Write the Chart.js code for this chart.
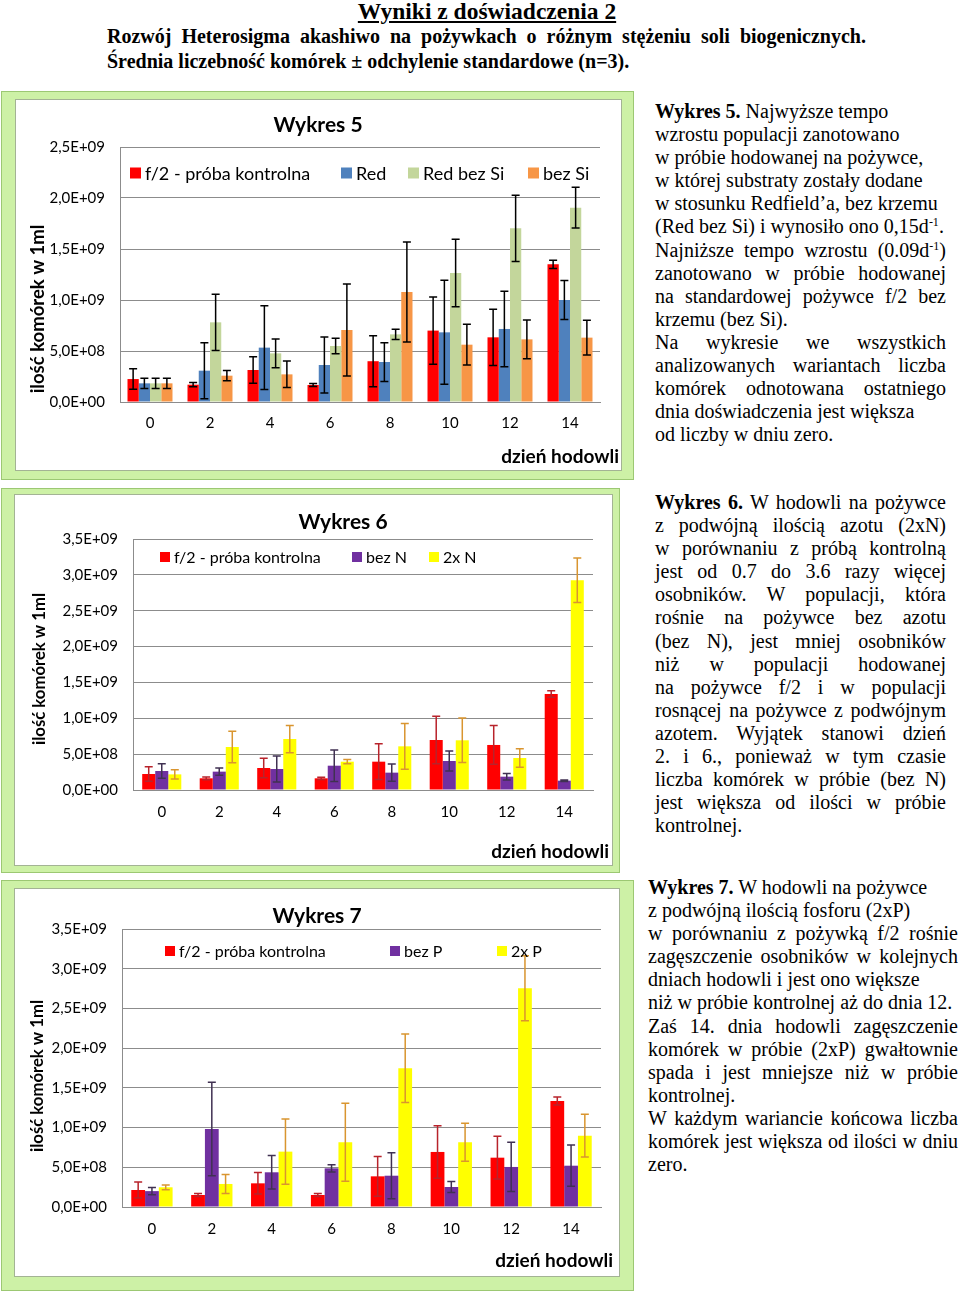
<!DOCTYPE html>
<html lang="pl">
<head>
<meta charset="utf-8">
<title>Wyniki z doświadczenia 2</title>
<script src="https://cdn.jsdelivr.net/npm/chart.js@4.4.1/dist/chart.umd.min.js"></script>
<style>
  body { margin: 0; background: #fff; }
  #strona { position: relative; width: 960px; height: 1295px; overflow: hidden; color: #000;
            font-family: "Liberation Serif", "Times New Roman", serif; }
  .ramka { position: absolute; box-sizing: border-box; background: #cdf1a6; border: 1px solid #9cc873; }
  .wnetrze { position: absolute; box-sizing: border-box; background: #fff; border: 1px solid #a3b394; }
  canvas { position: absolute; }
  #naglowek { position: absolute; left: 0; top: -1px; width: 974px; text-align: center;
              font-weight: bold; font-size: 23.5px; line-height: 24px; text-decoration: underline; }
  .podtytul { position: absolute; left: 107px; font-weight: bold; font-size: 20px; line-height: 24px; white-space: nowrap; }
  .j { text-align: justify; text-align-last: justify; }
  .opis { position: absolute; font-size: 20px; }
  .opis div { height: 23.1px; line-height: 23.1px; white-space: nowrap; }
  .opis div.j { white-space: normal; overflow: visible; }
  sup { font-size: 12px; line-height: 0; vertical-align: 7px; }
</style>
</head>
<body>
<div id="strona">
  <div id="naglowek">Wyniki z doświadczenia 2</div>
  <div class="podtytul j" style="top:24px; width:759px;">Rozwój Heterosigma akashiwo na pożywkach o różnym stężeniu soli biogenicznych.</div>
  <div class="podtytul" style="top:49px;">Średnia liczebność komórek ± odchylenie standardowe (n=3).</div>

  <!-- ramki wykresów -->
  <div class="ramka" style="left:1px; top:91px; width:633px; height:389px;"></div>
  <div class="wnetrze" style="left:15px; top:99px; width:607px; height:372px;"></div>
  <canvas id="wykres5" width="607" height="372" style="left:15px; top:99px;"></canvas>

  <div class="ramka" style="left:1px; top:488px; width:619px; height:385px;"></div>
  <div class="wnetrze" style="left:14px; top:494px; width:599px; height:372px;"></div>
  <canvas id="wykres6" width="599" height="372" style="left:14px; top:494px;"></canvas>

  <div class="ramka" style="left:1px; top:880px; width:633px; height:411px;"></div>
  <div class="wnetrze" style="left:14px; top:888px; width:606px; height:389px;"></div>
  <canvas id="wykres7" width="606" height="389" style="left:14px; top:888px;"></canvas>

  <!-- opisy -->
  <div class="opis" style="left:655px; top:100px; width:291px;">
    <div><b>Wykres 5.</b> Najwyższe tempo</div>
    <div>wzrostu populacji zanotowano</div>
    <div>w próbie hodowanej na pożywce,</div>
    <div>w której substraty zostały dodane</div>
    <div>w stosunku Redfield’a, bez krzemu</div>
    <div>(Red bez Si) i wynosiło ono 0,15d<sup>-1</sup>.</div>
    <div class="j">Najniższe tempo wzrostu (0.09d<sup>-1</sup>)</div>
    <div class="j">zanotowano w próbie hodowanej</div>
    <div class="j">na standardowej pożywce f/2 bez</div>
    <div>krzemu (bez Si).</div>
    <div class="j">Na wykresie we wszystkich</div>
    <div class="j">analizowanych wariantach liczba</div>
    <div class="j">komórek odnotowana ostatniego</div>
    <div>dnia doświadczenia jest większa</div>
    <div>od liczby w dniu zero.</div>
  </div>

  <div class="opis" style="left:655px; top:491px; width:291px;">
    <div class="j"><b>Wykres 6.</b> W hodowli na pożywce</div>
    <div class="j">z podwójną ilością azotu (2xN)</div>
    <div class="j">w porównaniu z próbą kontrolną</div>
    <div class="j">jest od 0.7 do 3.6 razy więcej</div>
    <div class="j">osobników. W populacji, która</div>
    <div class="j">rośnie na pożywce bez azotu</div>
    <div class="j">(bez N), jest mniej osobników</div>
    <div class="j">niż w populacji hodowanej</div>
    <div class="j">na pożywce f/2 i w populacji</div>
    <div class="j">rosnącej na pożywce z podwójnym</div>
    <div class="j">azotem. Wyjątek stanowi dzień</div>
    <div class="j">2. i 6., ponieważ w tym czasie</div>
    <div class="j">liczba komórek w próbie (bez N)</div>
    <div class="j">jest większa od ilości w próbie</div>
    <div>kontrolnej.</div>
  </div>

  <div class="opis" style="left:648px; top:876px; width:310px;">
    <div><b>Wykres 7.</b> W hodowli na pożywce</div>
    <div>z podwójną ilością fosforu (2xP)</div>
    <div class="j">w porównaniu z pożywką f/2 rośnie</div>
    <div class="j">zagęszczenie osobników w kolejnych</div>
    <div>dniach hodowli i jest ono większe</div>
    <div>niż w próbie kontrolnej aż do dnia 12.</div>
    <div class="j">Zaś 14. dnia hodowli zagęszczenie</div>
    <div class="j">komórek w próbie (2xP) gwałtownie</div>
    <div class="j">spada i jest mniejsze niż w próbie</div>
    <div>kontrolnej.</div>
    <div class="j">W każdym wariancie końcowa liczba</div>
    <div class="j">komórek jest większa od ilości w dniu</div>
    <div>zero.</div>
  </div>
</div>

<script>
// dni hodowli (oś X)
var dni = ['0', '2', '4', '6', '8', '10', '12', '14'];

// Wykres 5 - średnie i odchylenia standardowe
var w5_kontrola    = [2.25e8, 1.70e8, 3.14e8, 1.67e8, 4.00e8, 7.00e8, 6.34e8, 1.35e9];
var w5_kontrola_sd = [1.00e8, 0.20e8, 1.30e8, 0.15e8, 2.50e8, 3.30e8, 2.75e8, 0.40e8];
var w5_red         = [1.83e8, 3.07e8, 5.33e8, 3.63e8, 3.92e8, 6.83e8, 7.16e8, 1.00e9];
var w5_red_sd      = [0.50e8, 2.75e8, 4.10e8, 2.75e8, 1.90e8, 5.10e8, 3.70e8, 1.90e8];
var w5_redBezSi    = [1.83e8, 7.81e8, 4.77e8, 5.49e8, 6.63e8, 1.265e9, 1.703e9, 1.905e9];
var w5_redBezSi_sd = [0.50e8, 2.75e8, 1.40e8, 0.75e8, 0.50e8, 3.30e8, 3.25e8, 2.00e8];
var w5_bezSi       = [1.83e8, 2.58e8, 2.71e8, 7.06e8, 1.078e9, 5.62e8, 6.14e8, 6.31e8];
var w5_bezSi_sd    = [0.50e8, 0.50e8, 1.30e8, 4.50e8, 4.90e8, 2.00e8, 1.90e8, 1.70e8];

// Wykres 6
var w6_kontrola    = [2.23e8, 1.63e8, 3.07e8, 1.63e8, 3.95e8, 6.97e8, 6.28e8, 1.339e9];
var w6_kontrola_sd = [1.00e8, 0.20e8, 1.35e8, 0.15e8, 2.50e8, 3.30e8, 2.70e8, 0.45e8];
var w6_bezN        = [2.65e8, 2.56e8, 2.93e8, 3.39e8, 2.42e8, 4.04e8, 1.86e8, 1.30e8];
var w6_bezN_sd     = [1.00e8, 0.50e8, 1.80e8, 2.20e8, 1.20e8, 1.40e8, 0.45e8, 0.10e8];
var w6_2xN         = [2.18e8, 6.00e8, 7.11e8, 3.95e8, 6.09e8, 6.93e8, 4.46e8, 2.924e9];
var w6_2xN_sd      = [0.65e8, 2.20e8, 1.90e8, 0.30e8, 3.20e8, 3.10e8, 1.30e8, 3.10e8];

// Wykres 7
var w7_kontrola    = [2.14e8, 1.51e8, 2.98e8, 1.51e8, 3.86e8, 6.93e8, 6.21e8, 1.335e9];
var w7_kontrola_sd = [1.00e8, 0.20e8, 1.35e8, 0.20e8, 2.50e8, 3.30e8, 2.70e8, 0.50e8];
var w7_bezP        = [2.00e8, 9.82e8, 4.37e8, 4.87e8, 3.94e8, 2.52e8, 5.04e8, 5.20e8];
var w7_bezP_sd     = [0.45e8, 5.90e8, 2.10e8, 0.45e8, 2.90e8, 0.70e8, 3.10e8, 2.60e8];
var w7_2xP         = [2.48e8, 2.90e8, 6.97e8, 8.15e8, 1.747e9, 8.15e8, 2.754e9, 8.98e8];
var w7_2xP_sd      = [0.30e8, 1.20e8, 4.10e8, 4.90e8, 4.30e8, 2.40e8, 4.10e8, 2.70e8];

Chart.defaults.font.family = 'Lato';
Chart.defaults.color = '#000';

// format osi Y jak w Excelu: 2,5E+09
function formatE(v) {
  var s = Number(v).toExponential(1).split('e');
  var wyk = parseInt(s[1], 10);
  var znak = wyk < 0 ? '-' : '+';
  wyk = Math.abs(wyk);
  return s[0].replace('.', ',') + 'E' + znak + (wyk < 10 ? '0' + wyk : wyk);
}

// słupki błędów (± odchylenie standardowe)
var slupkiBledow = {
  id: 'slupkiBledow',
  afterDatasetsDraw: function(chart) {
    var ctx = chart.ctx;
    var y = chart.scales.y;
    chart.data.datasets.forEach(function(ds, i) {
      var meta = chart.getDatasetMeta(i);
      ctx.save();
      ctx.strokeStyle = ds.kolorBledu;
      ctx.lineWidth = 1.5;
      meta.data.forEach(function(bar, j) {
        var gora = y.getPixelForValue(ds.data[j] + ds.sd[j]);
        var dol = y.getPixelForValue(ds.data[j] - ds.sd[j]);
        ctx.beginPath();
        ctx.moveTo(bar.x, gora); ctx.lineTo(bar.x, dol);
        ctx.moveTo(bar.x - 4, gora); ctx.lineTo(bar.x + 4, gora);
        ctx.moveTo(bar.x - 4, dol); ctx.lineTo(bar.x + 4, dol);
        ctx.stroke();
      });
      ctx.restore();
    });
  }
};

// tytuł, podpisy osi i legenda wewnątrz obszaru wykresu (jak w Excelu)
var opisy = {
  id: 'opisy',
  afterDraw: function(chart, args, o) {
    var ctx = chart.ctx;
    ctx.save();
    ctx.fillStyle = '#000';
    ctx.textBaseline = 'middle';

    ctx.textAlign = 'center';
    ctx.font = 'bold ' + o.tytulRozmiar + 'px Lato';
    ctx.fillText(o.tytul, o.tytulX, o.tytulY);

    ctx.save();
    ctx.translate(o.osYX, o.osYY);
    ctx.rotate(-Math.PI / 2);
    ctx.font = 'bold ' + o.osYRozmiar + 'px Lato';
    ctx.fillText('ilość komórek w 1ml', 0, 0);
    ctx.restore();

    ctx.textAlign = 'right';
    ctx.font = 'bold ' + o.osXRozmiar + 'px Lato';
    ctx.fillText('dzień hodowli', o.osXX, o.osXY);

    ctx.textAlign = 'left';
    ctx.font = o.legendaRozmiar + 'px Lato';
    chart.data.datasets.forEach(function(ds, i) {
      var x = o.legendaX[i];
      ctx.fillStyle = ds.backgroundColor;
      ctx.fillRect(x, o.legendaY - o.kwadrat / 2, o.kwadrat, o.kwadrat);
      ctx.fillStyle = '#000';
      ctx.fillText(ds.label, x + o.kwadrat + 4, o.legendaY + 1);
    });
    ctx.restore();
  }
};

function zestaw(label, dane, sd, kolor, kolorBledu, szer) {
  return {
    label: label, data: dane, sd: sd,
    backgroundColor: kolor, kolorBledu: kolorBledu, borderWidth: 0,
    categoryPercentage: szer, barPercentage: 1
  };
}

function rysuj(id, zestawy, max, obszar, opisyOpcje) {
  var ctx = document.getElementById(id).getContext('2d');
  return new Chart(ctx, {
    type: 'bar',
    data: { labels: dni, datasets: zestawy },
    options: {
      responsive: false,
      animation: false,
      layout: { padding: { top: obszar.gora, right: obszar.prawo, left: 0, bottom: 0 } },
      plugins: {
        legend: { display: false },
        title: { display: false },
        tooltip: { enabled: false },
        opisy: opisyOpcje
      },
      scales: {
        x: {
          grid: { display: false, drawTicks: false },
          border: { display: true, color: '#8c8c8c', width: 1 },
          ticks: { font: { size: 15 }, padding: obszar.padX },
          afterFit: function(s) { s.height = obszar.wysX; }
        },
        y: {
          min: 0, max: max,
          grid: { color: '#8c8c8c', drawTicks: false },
          border: { display: true, color: '#8c8c8c', width: 1 },
          ticks: { stepSize: 5e8, padding: 15, font: { size: 15 }, callback: formatE },
          afterFit: function(s) { s.width = obszar.lewo; }
        }
      }
    },
    plugins: [slupkiBledow, opisy]
  });
}

rysuj('wykres5', [
  zestaw('f/2 - próba kontrolna', w5_kontrola, w5_kontrola_sd, '#ff0000', '#000', 0.75),
  zestaw('Red', w5_red, w5_red_sd, '#4f81bd', '#000', 0.75),
  zestaw('Red bez Si', w5_redBezSi, w5_redBezSi_sd, '#c3d69b', '#000', 0.75),
  zestaw('bez Si', w5_bezSi, w5_bezSi_sd, '#f79646', '#000', 0.75)
], 2.5e9,
  { lewo: 105, gora: 48, prawo: 22, wysX: 69, padX: 12 },
  { tytul: 'Wykres 5', tytulX: 303, tytulY: 26, tytulRozmiar: 21,
    osYX: 23, osYY: 210, osYRozmiar: 18.5, osXX: 604, osXY: 358, osXRozmiar: 19,
    legendaX: [115, 326, 393, 513], legendaY: 74, legendaRozmiar: 18, kwadrat: 11 });

rysuj('wykres6', [
  zestaw('f/2 - próba kontrolna', w6_kontrola, w6_kontrola_sd, '#ff0000', '#b8232b', 0.68),
  zestaw('bez N', w6_bezN, w6_bezN_sd, '#7030a0', '#403152', 0.68),
  zestaw('2x N', w6_2xN, w6_2xN_sd, '#ffff00', '#d9952f', 0.68)
], 3.5e9,
  { lewo: 119, gora: 45, prawo: 20, wysX: 76, padX: 13 },
  { tytul: 'Wykres 6', tytulX: 329, tytulY: 28, tytulRozmiar: 21,
    osYX: 26, osYY: 175, osYRozmiar: 16.7, osXX: 595, osXY: 358, osXRozmiar: 19,
    legendaX: [146, 338, 415], legendaY: 63, legendaRozmiar: 16, kwadrat: 10 });

rysuj('wykres7', [
  zestaw('f/2 - próba kontrolna', w7_kontrola, w7_kontrola_sd, '#ff0000', '#b8232b', 0.69),
  zestaw('bez P', w7_bezP, w7_bezP_sd, '#7030a0', '#403152', 0.69),
  zestaw('2x P', w7_2xP, w7_2xP_sd, '#ffff00', '#d9952f', 0.69)
], 3.5e9,
  { lewo: 108, gora: 41, prawo: 19, wysX: 70, padX: 13 },
  { tytul: 'Wykres 7', tytulX: 303, tytulY: 28, tytulRozmiar: 21,
    osYX: 24, osYY: 188, osYRozmiar: 16.7, osXX: 599, osXY: 373, osXRozmiar: 19,
    legendaX: [151, 376, 483], legendaY: 63, legendaRozmiar: 16, kwadrat: 10 });
</script>
</body>
</html>
